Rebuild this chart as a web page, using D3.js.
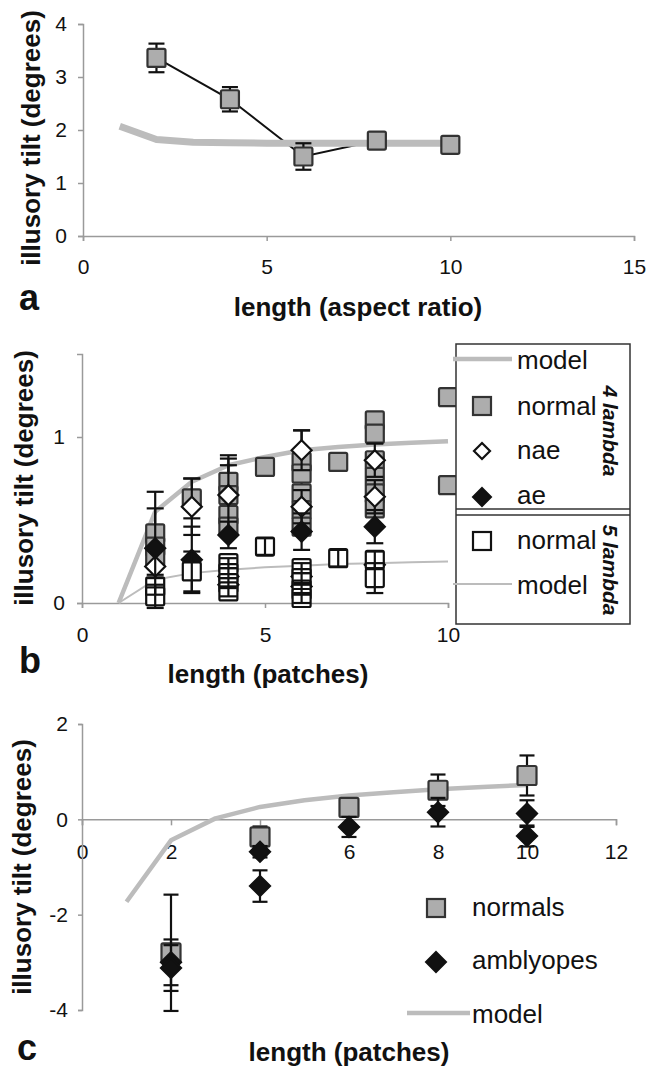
<!DOCTYPE html>
<html><head><meta charset="utf-8">
<script src="https://cdn.jsdelivr.net/npm/d3@7"></script>
<style>
body{margin:0;background:#fff;}
text{font-family:"Liberation Sans",Arial,sans-serif;fill:#111;}
</style></head>
<body><svg id="c" width="658" height="1067"></svg>
<script>
// ---------- Panel a data ----------
const aX = [2, 4, 6, 8, 10];
const aY = [3.36, 2.58, 1.5, 1.8, 1.72];
const aErr = [0.27, 0.23, 0.25, 0.12, 0.06];
const aModelX = [1, 2, 3, 4, 5, 6, 7, 8, 9, 10];
const aModelY = [2.07, 1.82, 1.77, 1.76, 1.75, 1.75, 1.75, 1.75, 1.75, 1.75];
const aXTicks = [0, 5, 10, 15];
const aYTicks = [0, 1, 2, 3, 4];

// ---------- Panel b data ----------
const bModelX = [1, 2, 3, 4, 5, 6, 7, 8, 9, 10];
const bModel4 = [0, 0.55, 0.73, 0.83, 0.88, 0.92, 0.94, 0.955, 0.965, 0.975];
const bModel5 = [0, 0.14, 0.18, 0.2, 0.215, 0.225, 0.235, 0.24, 0.245, 0.25];
const bNormX = [2, 2, 2, 3, 4, 4, 4, 4, 5, 6, 6, 6, 6, 6, 7, 8, 8, 8, 8, 8, 8, 10, 10];
const bNormY = [0.42, 0.34, 0.27, 0.63, 0.73, 0.65, 0.53, 0.46, 0.82, 0.85, 0.78, 0.66, 0.56, 0.46, 0.85, 1.1, 1.02, 0.86, 0.76, 0.66, 0.57, 1.24, 0.71];
const bNormErr = [0.25, 0, 0, 0.12, 0.14, 0.18, 0, 0, 0, 0.19, 0, 0, 0, 0, 0, 0.05, 0, 0, 0, 0, 0, 0, 0.05];
const bNaeX = [2, 3, 4, 6, 6, 8, 8];
const bNaeY = [0.22, 0.58, 0.65, 0.92, 0.58, 0.86, 0.64];
const bNaeErr = [0.1, 0.17, 0.24, 0.12, 0.1, 0.1, 0.1];
const bAeX = [2, 3, 4, 4, 4, 6, 6, 6, 8, 8];
const bAeY = [0.33, 0.26, 0.41, 0.16, 0.11, 0.43, 0.16, 0.1, 0.46, 0.23];
const bAeErr = [0.24, 0.2, 0.08, 0.05, 0.05, 0.11, 0.05, 0.05, 0.1, 0.05];
const bN5X = [2, 2, 3, 4, 4, 4, 4, 5, 6, 6, 6, 6, 7, 8, 8];
const bN5Y = [0.1, 0.04, 0.19, 0.24, 0.18, 0.12, 0.07, 0.34, 0.21, 0.15, 0.08, 0.03, 0.27, 0.26, 0.15];
const bN5Err = [0.05, 0.07, 0.12, 0.03, 0.03, 0.03, 0.03, 0.05, 0.03, 0.03, 0.03, 0.03, 0.05, 0.05, 0.09];
const bXTicks = [0, 5, 10];
const bYTicks = [0, 1];

// ---------- Panel c data ----------
const cNormX = [2, 4, 6, 8, 10];
const cNormY = [-2.8, -0.37, 0.25, 0.61, 0.92];
const cNormErr = [1.22, 0.22, 0.1, 0.33, 0.42];
const cAmbX = [2, 2, 4, 4, 6, 8, 10, 10];
const cAmbY = [-3.0, -3.12, -0.68, -1.4, -0.16, 0.15, 0.12, -0.35];
const cAmbErr = [0.48, 0.48, 0.12, 0.33, 0.21, 0.3, 0.28, 0.22];
const cModelX = [1, 2, 3, 4, 5, 6, 7, 8, 9, 10];
const cModelY = [-1.73, -0.44, 0.02, 0.26, 0.4, 0.5, 0.57, 0.63, 0.68, 0.72];
const cXTicks = [0, 2, 4, 6, 8, 10, 12];
const cYTicks = [-4, -2, 0, 2];

const GRAY = "#adadad", MODEL = "#bcbcbc", AXIS = "#9a9a9a";
const svg = d3.select("#c");
const fmt = d => String(d);

function styleAxis(g) {
  g.select(".domain").attr("stroke", AXIS).attr("stroke-width", 1.5);
  g.selectAll(".tick line").attr("stroke", AXIS).attr("stroke-width", 1.5);
  g.selectAll(".tick text").attr("font-size", 21).attr("fill", "#111")
    .style("font-family", '"Liberation Sans",Arial,sans-serif');
}
function zip(xs, ys, es) { return xs.map((x, i) => ({x: x, y: ys[i], e: es ? es[i] : 0})); }

function errBars(g, data, xs, ys, cap) {
  const eb = g.append("g").attr("stroke", "#111").attr("stroke-width", 2.2);
  data.filter(d => d.e > 0).forEach(d => {
    const x = xs(d.x), y1 = ys(d.y + d.e), y2 = ys(d.y - d.e);
    eb.append("line").attr("x1", x).attr("x2", x).attr("y1", y1).attr("y2", y2);
    eb.append("line").attr("x1", x - cap / 2).attr("x2", x + cap / 2).attr("y1", y1).attr("y2", y1);
    eb.append("line").attr("x1", x - cap / 2).attr("x2", x + cap / 2).attr("y1", y2).attr("y2", y2);
  });
}
function squares(g, data, xs, ys, s, fill, stroke) {
  g.append("g").selectAll("rect").data(data).join("rect")
    .attr("x", d => xs(d.x) - s / 2).attr("y", d => ys(d.y) - s / 2)
    .attr("width", s).attr("height", s).attr("rx", 1.5)
    .attr("fill", fill).attr("stroke", stroke).attr("stroke-width", 2.2);
}
function diamonds(g, data, xs, ys, r, fill) {
  g.append("g").selectAll("path").data(data).join("path")
    .attr("d", d => { const x = xs(d.x), y = ys(d.y); return `M${x},${y - r}L${x + r},${y}L${x},${y + r}L${x - r},${y}Z`; })
    .attr("fill", fill).attr("stroke", "#111").attr("stroke-width", 2.2);
}

// ================= Panel a =================
{
  const xs = d3.scaleLinear([0, 15], [83, 634]);
  const ys = d3.scaleLinear([0, 4], [236, 24]);
  const g = svg.append("g");
  g.append("g").attr("transform", `translate(0,${ys(0)})`)
    .call(d3.axisBottom(xs).tickValues(aXTicks).tickFormat(fmt).tickSize(5).tickPadding(18)).call(styleAxis);
  g.append("g").attr("transform", `translate(${xs(0)},0)`)
    .call(d3.axisLeft(ys).tickValues(aYTicks).tickFormat(fmt).tickSize(5).tickPadding(11)).call(styleAxis);
  const data = zip(aX, aY, aErr);
  const line = d3.line().x(d => xs(d.x)).y(d => ys(d.y));
  g.append("path").datum(data).attr("d", line).attr("fill", "none").attr("stroke", "#111").attr("stroke-width", 2);
  g.append("path").datum(zip(aModelX, aModelY)).attr("d", line).attr("fill", "none")
    .attr("stroke", MODEL).attr("stroke-width", 7).attr("stroke-linejoin", "round");
  errBars(g, data, xs, ys, 16);
  squares(g, data, xs, ys, 18, GRAY, "#333");
  g.append("text").attr("x", 358).attr("y", 316).attr("text-anchor", "middle")
    .attr("font-size", 26).attr("font-weight", "bold").text("length (aspect ratio)");
  g.append("text").attr("x", 19).attr("y", 310).attr("font-size", 36).attr("font-weight", "bold").text("a");
  g.append("text").attr("transform", "translate(40,138) rotate(-90)").attr("text-anchor", "middle")
    .attr("font-size", 26).attr("font-weight", "bold").text("illusory tilt (degrees)");
}

// ================= Panel b =================
{
  const xs = d3.scaleLinear([0, 10], [82, 448]);
  const ys = d3.scaleLinear([0, 1.5], [603, 354]);
  const g = svg.append("g");
  g.append("g").attr("transform", `translate(0,${ys(0)})`)
    .call(d3.axisBottom(xs).tickValues(bXTicks).tickFormat(fmt).tickSize(5).tickPadding(19)).call(styleAxis);
  g.append("g").attr("transform", `translate(${xs(0)},0)`)
    .call(d3.axisLeft(ys).tickValues(bYTicks).tickFormat(fmt).tickSize(5).tickPadding(12)).call(styleAxis);
  const line = d3.line().x(d => xs(d.x)).y(d => ys(d.y));
  g.append("path").datum(zip(bModelX, bModel5)).attr("d", line).attr("fill", "none")
    .attr("stroke", MODEL).attr("stroke-width", 2);
  g.append("path").datum(zip(bModelX, bModel4)).attr("d", line).attr("fill", "none")
    .attr("stroke", MODEL).attr("stroke-width", 4.5).attr("stroke-linejoin", "round");
  const norm = zip(bNormX, bNormY, bNormErr), nae = zip(bNaeX, bNaeY, bNaeErr),
        ae = zip(bAeX, bAeY, bAeErr), n5 = zip(bN5X, bN5Y, bN5Err);
  errBars(g, norm, xs, ys, 17);
  squares(g, norm, xs, ys, 18, GRAY, "#333");
  errBars(g, nae, xs, ys, 17);
  diamonds(g, nae, xs, ys, 10, "#fff");
  errBars(g, ae, xs, ys, 17);
  diamonds(g, ae, xs, ys, 10, "#111");
  squares(g, n5, xs, ys, 18, "#fff", "#111");
  errBars(g, n5, xs, ys, 17);

  // legend
  const L = g.append("g");
  L.append("rect").attr("x", 456).attr("y", 344).attr("width", 174).attr("height", 280)
    .attr("fill", "#fff").attr("stroke", "#333").attr("stroke-width", 1.5);
  L.append("line").attr("x1", 456).attr("x2", 630).attr("y1", 509).attr("y2", 509).attr("stroke", "#333").attr("stroke-width", 1.5);
  L.append("line").attr("x1", 456).attr("x2", 630).attr("y1", 515).attr("y2", 515).attr("stroke", "#333").attr("stroke-width", 1.5);
  L.append("line").attr("x1", 453).attr("x2", 512).attr("y1", 359).attr("y2", 359).attr("stroke", MODEL).attr("stroke-width", 4.5);
  L.append("line").attr("x1", 453).attr("x2", 512).attr("y1", 584).attr("y2", 584).attr("stroke", MODEL).attr("stroke-width", 2);
  L.append("rect").attr("x", 473).attr("y", 397).attr("width", 18).attr("height", 18).attr("fill", GRAY).attr("stroke", "#333").attr("stroke-width", 2.2);
  L.append("rect").attr("x", 473).attr("y", 532).attr("width", 18).attr("height", 18).attr("fill", "#fff").attr("stroke", "#111").attr("stroke-width", 2.2);
  L.append("path").attr("d", "M482,443L490,451L482,459L474,451Z").attr("fill", "#fff").attr("stroke", "#111").attr("stroke-width", 2.2);
  L.append("path").attr("d", "M482,488L491,497L482,506L473,497Z").attr("fill", "#111").attr("stroke", "#111").attr("stroke-width", 2);
  const items = [["model", 369], ["normal", 415], ["nae", 459], ["ae", 504], ["normal", 549], ["model", 594]];
  items.forEach(d => L.append("text").attr("x", 517).attr("y", d[1]).attr("font-size", 26).text(d[0]));
  L.append("text").attr("transform", "translate(603,431) rotate(90)").attr("text-anchor", "middle")
    .attr("font-size", 21).attr("font-weight", "bold").attr("font-style", "italic").text("4 lambda");
  L.append("text").attr("transform", "translate(603,570) rotate(90)").attr("text-anchor", "middle")
    .attr("font-size", 21).attr("font-weight", "bold").attr("font-style", "italic").text("5 lambda");

  g.append("text").attr("x", 268).attr("y", 683).attr("text-anchor", "middle")
    .attr("font-size", 26).attr("font-weight", "bold").text("length (patches)");
  g.append("text").attr("x", 19).attr("y", 673).attr("font-size", 36).attr("font-weight", "bold").text("b");
  g.append("text").attr("transform", "translate(33,478) rotate(-90)").attr("text-anchor", "middle")
    .attr("font-size", 26).attr("font-weight", "bold").text("illusory tilt (degrees)");
}

// ================= Panel c =================
{
  const xs = d3.scaleLinear([0, 12], [82, 616]);
  const ys = d3.scaleLinear([-4, 2], [1010, 724]);
  const g = svg.append("g");
  g.append("g").attr("transform", `translate(0,${ys(0)})`)
    .call(d3.axisBottom(xs).tickValues(cXTicks).tickFormat(fmt).tickSize(6).tickPadding(19)).call(styleAxis);
  g.append("g").attr("transform", `translate(${xs(0)},0)`)
    .call(d3.axisLeft(ys).tickValues(cYTicks).tickFormat(fmt).tickSize(4).tickPadding(10)).call(styleAxis);
  const line = d3.line().x(d => xs(d.x)).y(d => ys(d.y));
  g.append("path").datum(zip(cModelX, cModelY)).attr("d", line).attr("fill", "none")
    .attr("stroke", MODEL).attr("stroke-width", 4.5).attr("stroke-linejoin", "round");
  const norm = zip(cNormX, cNormY, cNormErr), amb = zip(cAmbX, cAmbY, cAmbErr);
  errBars(g, norm, xs, ys, 15);
  squares(g, norm, xs, ys, 19, GRAY, "#333");
  errBars(g, amb, xs, ys, 15);
  diamonds(g, amb, xs, ys, 10, "#111");

  // legend
  g.append("rect").attr("x", 427).attr("y", 899).attr("width", 18).attr("height", 18)
    .attr("fill", GRAY).attr("stroke", "#333").attr("stroke-width", 2.2);
  g.append("path").attr("d", "M436,952L446,962L436,972L426,962Z").attr("fill", "#111").attr("stroke", "#111").attr("stroke-width", 2);
  g.append("line").attr("x1", 407).attr("x2", 470).attr("y1", 1013).attr("y2", 1013).attr("stroke", MODEL).attr("stroke-width", 4.5);
  g.append("text").attr("x", 472).attr("y", 916).attr("font-size", 26).text("normals");
  g.append("text").attr("x", 472).attr("y", 969).attr("font-size", 26).text("amblyopes");
  g.append("text").attr("x", 472).attr("y", 1023).attr("font-size", 26).text("model");

  g.append("text").attr("x", 349).attr("y", 1061).attr("text-anchor", "middle")
    .attr("font-size", 26).attr("font-weight", "bold").text("length (patches)");
  g.append("text").attr("x", 17).attr("y", 1060).attr("font-size", 36).attr("font-weight", "bold").text("c");
  g.append("text").attr("transform", "translate(31,867) rotate(-90)").attr("text-anchor", "middle")
    .attr("font-size", 26).attr("font-weight", "bold").text("illusory tilt (degrees)");
}
</script></body></html>
